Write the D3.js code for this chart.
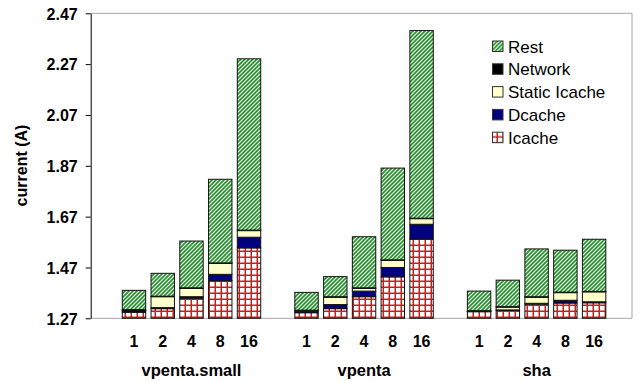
<!DOCTYPE html>
<html>
<head>
<meta charset="utf-8">
<script src="https://cdn.jsdelivr.net/npm/d3@7/dist/d3.min.js"></script>
<style>
  html, body { margin: 0; padding: 0; background: #fff; }
  svg { display: block; font-family: "Liberation Sans", Arial, sans-serif; }
</style>
</head>
<body>
<svg id="chart" width="639" height="382"></svg>
<script>
// Benchmarks and thread counts along the x axis
const groups = ["vpenta.small", "vpenta", "sha"];
const threads = ["1", "2", "4", "8", "16"];

// Current per component (A). Icache is the absolute level; the other
// components are stacked increments on top of it.
const icache       = [1.294, 1.308, 1.349, 1.418, 1.547,  1.292, 1.308, 1.355, 1.433, 1.582,  1.296, 1.301, 1.326, 1.330, 1.331];
const dcache       = [0.006, 0.004, 0.006, 0.025, 0.042,  0.006, 0.016, 0.022, 0.037, 0.058,  0.001, 0.002, 0.003, 0.011, 0.004];
const staticIcache = [0.001, 0.043, 0.033, 0.043, 0.026,  0.001, 0.029, 0.011, 0.028, 0.022,  0.001, 0.011, 0.024, 0.030, 0.039];
const network      = [0.003, 0.002, 0.002, 0.002, 0.002,  0.003, 0.002, 0.002, 0.002, 0.002,  0.002, 0.002, 0.002, 0.002, 0.002];
const rest         = [0.076, 0.090, 0.184, 0.329, 0.674,  0.070, 0.079, 0.201, 0.361, 0.738,  0.077, 0.104, 0.188, 0.165, 0.205];

const yTicks = [1.27, 1.47, 1.67, 1.87, 2.07, 2.27, 2.47];

const seriesNames = ["Icache", "Dcache", "Static Icache", "Network", "Rest"];
const seriesData = [icache, dcache, staticIcache, network, rest];

// One row per bar, keyed by slot; an empty slot separates the benchmarks.
const rows = [];
const slots = [];
groups.forEach((g, gi) => {
  if (gi > 0) slots.push("gap" + gi);
  threads.forEach((t, ti) => {
    const key = g + "|" + t;
    slots.push(key);
    const row = { key, group: g, thread: t };
    seriesNames.forEach((s, si) => { row[s] = seriesData[si][gi * threads.length + ti]; });
    rows.push(row);
  });
});

const svg = d3.select("#chart");
const plot = { left: 90.7, right: 632, top: 13.3, bottom: 318.3 };

const x = d3.scaleBand().domain(slots).range([119.6, 608.5]).paddingInner(0.186).paddingOuter(0.093);
const y = d3.scaleLinear().domain([1.27, 2.47]).range([plot.bottom, plot.top]);

// Fill patterns
const defs = svg.append("defs");
const hatch = defs.append("pattern").attr("id", "hatch")
  .attr("patternUnits", "userSpaceOnUse").attr("width", 4).attr("height", 4);
hatch.append("rect").attr("width", 4).attr("height", 4).attr("fill", "#fff");
hatch.append("path").attr("d", "M-1,1 l2,-2 M0,4 l4,-4 M3,5 l2,-2")
  .attr("stroke", "#23922a").attr("stroke-width", 1.7);

const cells = defs.append("pattern").attr("id", "cells")
  .attr("patternUnits", "userSpaceOnUse").attr("width", 6).attr("height", 6);
cells.append("rect").attr("width", 6).attr("height", 6).attr("fill", "#fff");
cells.append("path").attr("d", "M5.25,0 V6 M0,5.25 H6")
  .attr("stroke", "#c42020").attr("stroke-width", 1.5);

const fills = {
  "Icache": "url(#cells)",
  "Dcache": "#000080",
  "Static Icache": "#ffffcc",
  "Network": "#000000",
  "Rest": "url(#hatch)"
};

// Plot area frame
svg.append("path")
  .attr("d", `M${plot.left},${plot.top} H${plot.right} V${plot.bottom} H${plot.left}`)
  .attr("fill", "none").attr("stroke", "#a6a6a6").attr("stroke-width", 1);

// Stacked bars
const stacked = d3.stack().keys(seriesNames)(rows);
const yMin = y.domain()[0];
svg.append("g").selectAll("g").data(stacked).join("g")
  .attr("fill", d => fills[d.key])
  .selectAll("rect").data(d => d).join("rect")
  .attr("x", d => x(d.data.key))
  .attr("width", x.bandwidth())
  .attr("y", d => y(d[1]))
  .attr("height", d => y(Math.max(d[0], yMin)) - y(d[1]))
  .attr("stroke", "#111").attr("stroke-width", 1);

// Y axis
const yAxis = svg.append("g").attr("transform", `translate(${plot.left},0)`)
  .call(d3.axisLeft(y).tickValues(yTicks).tickFormat(d3.format(".2f")).tickSize(5).tickSizeOuter(0));
yAxis.select(".domain").attr("stroke", "#000");
yAxis.selectAll(".tick line").attr("stroke", "#000");
yAxis.selectAll(".tick text")
  .attr("x", -13).attr("dy", "0.36em")
  .attr("font-size", 16).attr("font-weight", "bold").attr("fill", "#000")
  .attr("font-family", "Liberation Sans, Arial, sans-serif");

svg.append("text")
  .attr("transform", "translate(27,165.5) rotate(-90)")
  .attr("text-anchor", "middle")
  .attr("font-size", 16).attr("font-weight", "bold")
  .text("current (A)");

// X labels: thread counts and benchmark names
svg.append("g").selectAll("text").data(rows).join("text")
  .attr("x", d => x(d.key) + x.bandwidth() / 2)
  .attr("y", 346.5)
  .attr("text-anchor", "middle")
  .attr("font-size", 16).attr("font-weight", "bold")
  .text(d => d.thread);

svg.append("g").selectAll("text").data(groups).join("text")
  .attr("x", g => {
    const mid = g + "|" + threads[2];
    return x(mid) + x.bandwidth() / 2;
  })
  .attr("y", 376)
  .attr("text-anchor", "middle")
  .attr("font-size", 16.5).attr("font-weight", "bold")
  .text(g => g);

// Legend (top series listed first)
const legend = svg.append("g");
const legendItems = seriesNames.slice().reverse();
const lg = legend.selectAll("g").data(legendItems).join("g")
  .attr("transform", (d, i) => `translate(492,${46.5 + i * 22.8})`);
lg.append("rect")
  .attr("x", 0.5).attr("y", -5.5).attr("width", 10.5).attr("height", 10.5)
  .attr("fill", d => fills[d]).attr("stroke", "#333").attr("stroke-width", 1);
lg.append("text")
  .attr("x", 16).attr("dy", "0.36em")
  .attr("font-size", 17)
  .text(d => d);
</script>
</body>
</html>
